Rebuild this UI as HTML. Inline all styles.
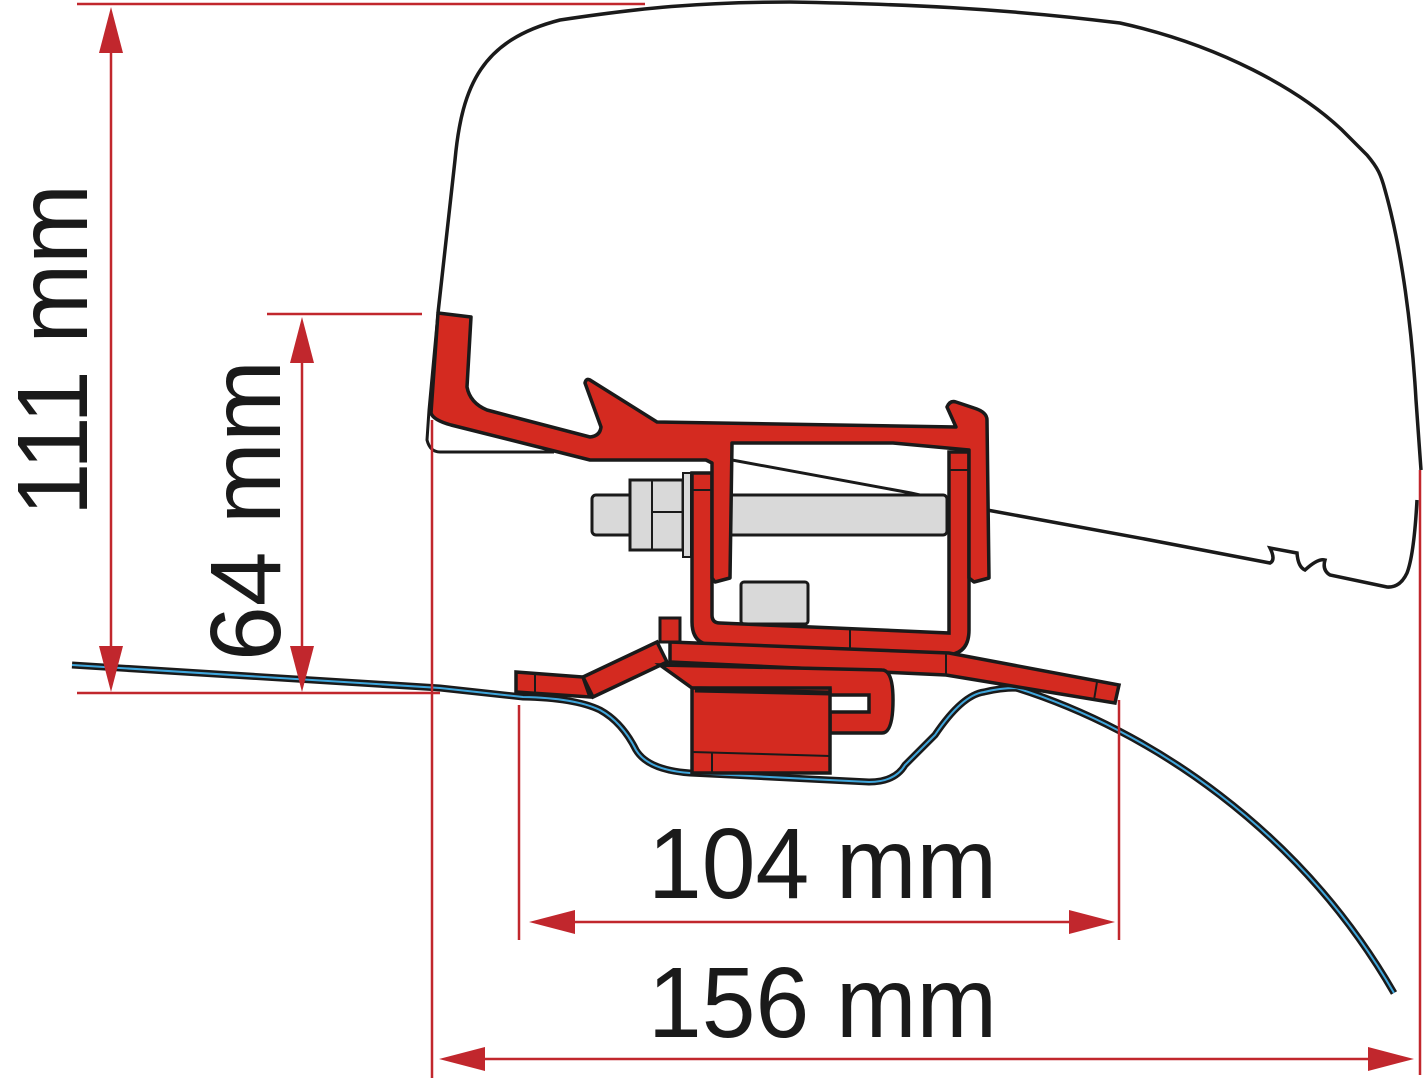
<!DOCTYPE html>
<html><head><meta charset="utf-8"><style>html,body{margin:0;padding:0;background:#fff}svg{display:block}</style></head>
<body>
<svg width="1425" height="1080" viewBox="0 0 1425 1080" xmlns="http://www.w3.org/2000/svg">
<!-- housing -->
<path d="M438,313 L455,160 C462,85 482,40 560,20 C640,8 700,2 790,2 C900,4 1000,8 1120,23 C1220,45 1300,90 1342,130 L1367,155 C1378,168 1381,175 1385,190 C1402,250 1412,330 1416,400 L1421,470" fill="none" stroke="#1a1a1a" stroke-width="3.5"/>
<path d="M1417,500 Q1414,555 1407,573 Q1400,588 1387,587 L1330,575 Q1322,570 1325,560 Q1318,558 1305,570 Q1298,567 1297,553 L1270,548 Q1276,560 1270,563 L1150,540 L987,510" fill="none" stroke="#1a1a1a" stroke-width="3.5"/>
<path d="M438,313 L429,410 L427,440 Q430,452 440,452 L554,452" fill="none" stroke="#1a1a1a" stroke-width="3"/>
<path d="M732,460 L911,493 L987,510" fill="none" stroke="#1a1a1a" stroke-width="3"/>
<!-- roof -->
<path id="roof" d="M72,665 L440,688 L523,697 Q575,698 600,710 Q622,722 636,750 Q648,770 690,773 L869,782 Q895,782 905,765 L935,735 Q962,695 984,692 Q1000,688 1016,688 C1150,730 1300,830 1394,993" fill="none" stroke="#1a1a1a" stroke-width="7"/>
<path d="M72,665 L440,688 L523,697 Q575,698 600,710 Q622,722 636,750 Q648,770 690,773 L869,782 Q895,782 905,765 L935,735 Q962,695 984,692 Q1000,688 1016,688 C1150,730 1300,830 1394,993" fill="none" stroke="#3fa6dc" stroke-width="2"/>
<!-- bolt -->
<rect x="592" y="495" width="355" height="40" rx="4" fill="#d9d9d9" stroke="#1a1a1a" stroke-width="3"/>
<rect x="630" y="480" width="53" height="70" fill="#d9d9d9" stroke="#1a1a1a" stroke-width="3"/>
<line x1="652" y1="480" x2="652" y2="550" stroke="#1a1a1a" stroke-width="2"/>
<line x1="652" y1="512" x2="683" y2="512" stroke="#1a1a1a" stroke-width="2"/>
<rect x="683" y="473" width="8" height="84" fill="#d9d9d9" stroke="#1a1a1a" stroke-width="2"/>
<rect x="741" y="582" width="67" height="42" rx="3" fill="#d9d9d9" stroke="#1a1a1a" stroke-width="3"/>
<!-- U bracket -->
<path d="M692,473 L712,473 L712,615 Q712,623 720,623 L949,633 L949,452 L969,452 L969,630 Q969,655 945,655 L712,645 Q692,644 692,622 Z" fill="#d42a20" stroke="#1a1a1a" stroke-width="3.5"/>
<line x1="692" y1="490" x2="712" y2="490" stroke="#1a1a1a" stroke-width="2"/>
<line x1="949" y1="470" x2="969" y2="470" stroke="#1a1a1a" stroke-width="2"/>
<line x1="850" y1="628" x2="850" y2="650" stroke="#1a1a1a" stroke-width="2"/>
<!-- main extrusion -->
<path d="M438,313 L471,317 L467,387 Q470,403 487,410 L590,437 Q600,436 601,427 L585,383 Q586,378 590,380 L657,422 L956,427 L947,407 Q950,400 956,402 L974,408 Q987,412 987,420 L989,578 L974,582 L969,578 L969,450 L893,443 L732,443 L730,578 L715,582 L712,578 L712,463 L706,460 L590,460 L451,425 Q433,420 431,413 Z" fill="#d42a20" stroke="#1a1a1a" stroke-width="3.5" stroke-linejoin="round"/>
<!-- lower plate + arms -->
<path d="M670,642 L949,653 L1119,685 L1115,703 L946,675 L670,662 Z" fill="#d42a20" stroke="#1a1a1a" stroke-width="3.5"/>
<line x1="946" y1="653" x2="946" y2="675" stroke="#1a1a1a" stroke-width="2"/>
<line x1="1097" y1="682" x2="1094" y2="700" stroke="#1a1a1a" stroke-width="2"/>
<path d="M583,677 L657,642 L667,662 L593,697 Z" fill="#d42a20" stroke="#1a1a1a" stroke-width="3.5"/>
<path d="M516,672 L583,677 L590,697 L516,692 Z" fill="#d42a20" stroke="#1a1a1a" stroke-width="3.5"/>
<line x1="535" y1="673" x2="535" y2="694" stroke="#1a1a1a" stroke-width="2"/>
<rect x="660" y="618" width="20" height="24" fill="#d42a20" stroke="#1a1a1a" stroke-width="3"/>
<!-- block -->
<path d="M660,665 L882,670 Q893,670 893,700 Q893,733 882,733 L830,733 L830,712 L869,712 L869,695 L830,695 L830,690 L692,688 Z" fill="#d42a20" stroke="#1a1a1a" stroke-width="3.5"/>
<rect x="692" y="688" width="138" height="85" fill="#d42a20" stroke="#1a1a1a" stroke-width="3.5"/>
<line x1="692" y1="752" x2="830" y2="756" stroke="#1a1a1a" stroke-width="2"/>
<line x1="712" y1="752" x2="712" y2="773" stroke="#1a1a1a" stroke-width="2"/>
<line x1="695" y1="690" x2="830" y2="693" stroke="#1a1a1a" stroke-width="5"/>
<!-- dimension lines -->
<g stroke="#c1272d" stroke-width="2.5" fill="none">
<line x1="77" y1="4" x2="645" y2="4"/>
<line x1="77" y1="693" x2="440" y2="693"/>
<line x1="267" y1="314" x2="422" y2="314"/>
<line x1="111" y1="40" x2="111" y2="660"/>
<line x1="302" y1="350" x2="302" y2="660"/>
<line x1="432" y1="420" x2="432" y2="1078"/>
<line x1="1420" y1="470" x2="1420" y2="1075"/>
<line x1="519" y1="705" x2="519" y2="940"/>
<line x1="1119" y1="700" x2="1119" y2="940"/>
<line x1="560" y1="922" x2="1090" y2="922"/>
<line x1="470" y1="1059" x2="1385" y2="1059"/>
</g>
<g fill="#c1272d">
<polygon points="111,7 99,53 123,53"/>
<polygon points="111,692 99,646 123,646"/>
<polygon points="302,317 290,363 314,363"/>
<polygon points="302,692 290,646 314,646"/>
<polygon points="529,922 575,910 575,934"/>
<polygon points="1115,922 1069,910 1069,934"/>
<polygon points="439,1059 485,1047 485,1071"/>
<polygon points="1414,1059 1368,1047 1368,1071"/>
</g>
<g font-family="'Liberation Sans', Arial, sans-serif" font-size="100" fill="#1a1a1a">
<text transform="translate(87,516) rotate(-90)" textLength="332" lengthAdjust="spacingAndGlyphs">111 mm</text>
<text transform="translate(280,661) rotate(-90)" textLength="301" lengthAdjust="spacingAndGlyphs">64 mm</text>
<text x="648" y="898" textLength="349" lengthAdjust="spacingAndGlyphs">104 mm</text>
<text x="648" y="1037" textLength="349" lengthAdjust="spacingAndGlyphs">156 mm</text>
</g>
</svg>
</body></html>
